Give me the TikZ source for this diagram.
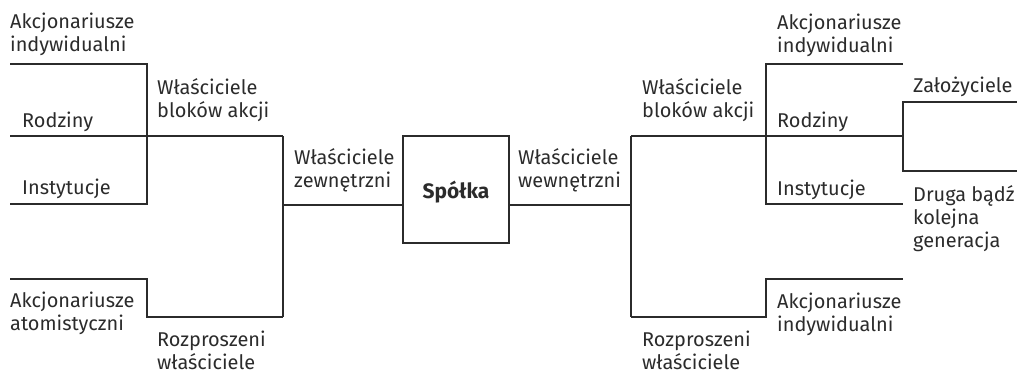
\documentclass[tikz,border=0pt]{standalone}
\usepackage{fontspec}
\setmainfont{Fira Sans}
\definecolor{ink}{HTML}{2B2B2B}
\begin{document}
\begin{tikzpicture}[x=1bp,y=-1bp,
  % labels are placed by the baseline of their last line
  lbl/.style={anchor=base west, inner sep=0pt, align=left,
    font=\fontsize{20}{23}\selectfont, text=ink},
  wire/.style={draw=ink, line width=1.2bp},
  company/.style={draw=ink, line width=1.2bp, minimum width=106bp,
    minimum height=107bp, inner sep=0pt,
    font=\fontsize{21}{23}\selectfont\bfseries, text=ink}]
\useasboundingbox (0,0) rectangle (1017,373);

% central company box
\node[company] (firm) at (456,189.5) {\raisebox{-8.5bp}[0pt][0pt]{Spółka}};

% junction points, left branch (external owners)
\coordinate (lA1) at (10,64);   \coordinate (lA2) at (147,64);
\coordinate (lR1) at (10,136);  \coordinate (lB)  at (283,136);
\coordinate (lI1) at (10,204);  \coordinate (lI2) at (147,204);
\coordinate (lT1) at (10,279);  \coordinate (lT2) at (147,279);
\coordinate (lT3) at (147,317); \coordinate (lD)  at (283,317);
\coordinate (lZ)  at (283,205);

% junction points, right branch (internal owners)
\coordinate (rB)  at (631,136); \coordinate (rD)  at (631,317);
\coordinate (rZ)  at (631,205);
\coordinate (rR3) at (903,136);
\coordinate (rA2) at (766,64);  \coordinate (rA3) at (903,64);
\coordinate (rI2) at (766,204); \coordinate (rI3) at (903,204);
\coordinate (rF1) at (903,102); \coordinate (rF2) at (1017,102);
\coordinate (rG1) at (903,171); \coordinate (rG2) at (1017,171);
\coordinate (rT3) at (766,317); \coordinate (rT2) at (766,279);
\coordinate (rT1) at (903,279);

% left brackets
\draw[wire] (lA1) -- (lA2) -- (lI2) -- (lI1);
\draw[wire] (lR1) -- (lB);
\draw[wire] (lB) -- (lD);
\draw[wire] (lT1) -- (lT2) -- (lT3) -- (lD);
\draw[wire] (lZ) -- (lZ -| firm.west);

% right brackets
\draw[wire] (rZ -| firm.east) -- (rZ);
\draw[wire] (rB) -- (rD);
\draw[wire] (rB) -- (rR3);
\draw[wire] (rA3) -- (rA2) -- (rI2) -- (rI3);
\draw[wire] (rF2) -- (rF1) -- (rG1) -- (rG2);
\draw[wire] (rD) -- (rT3) -- (rT2) -- (rT1);

% labels, left side
\node[lbl] (tL1) at (10,51)   {Akcjonariusze\\indywidualni};
\node[lbl] (tL2) at (22,127)  {Rodziny};
\node[lbl] (tL3) at (22,194)  {Instytucje};
\node[lbl] (tL4) at (10,330)  {Akcjonariusze\\atomistyczni};
\node[lbl] (tL5) at (157,117) {Właściciele\\bloków akcji};
\node[lbl] (tL6) at (157,369) {Rozproszeni\\właściciele};
\node[lbl] (tL7) at (294,187) {Właściciele\\zewnętrzni};

% labels, right side
\node[lbl] (tR7) at (518,187) {Właściciele\\wewnętrzni};
\node[lbl] (tR5) at (642,117) {Właściciele\\bloków akcji};
\node[lbl] (tR1) at (777,52)  {Akcjonariusze\\indywidualni};
\node[lbl] (tR2) at (777,127) {Rodziny};
\node[lbl] (tR3) at (777,195) {Instytucje};
\node[lbl] (tR8) at (913,92)  {Założyciele};
\node[lbl] (tR9) at (913,247) {Druga bądź\\kolejna\\generacja};
\node[lbl] (tR4) at (777,331) {Akcjonariusze\\indywidualni};
\node[lbl] (tR6) at (642,369) {Rozproszeni\\właściciele};
\end{tikzpicture}
\end{document}
